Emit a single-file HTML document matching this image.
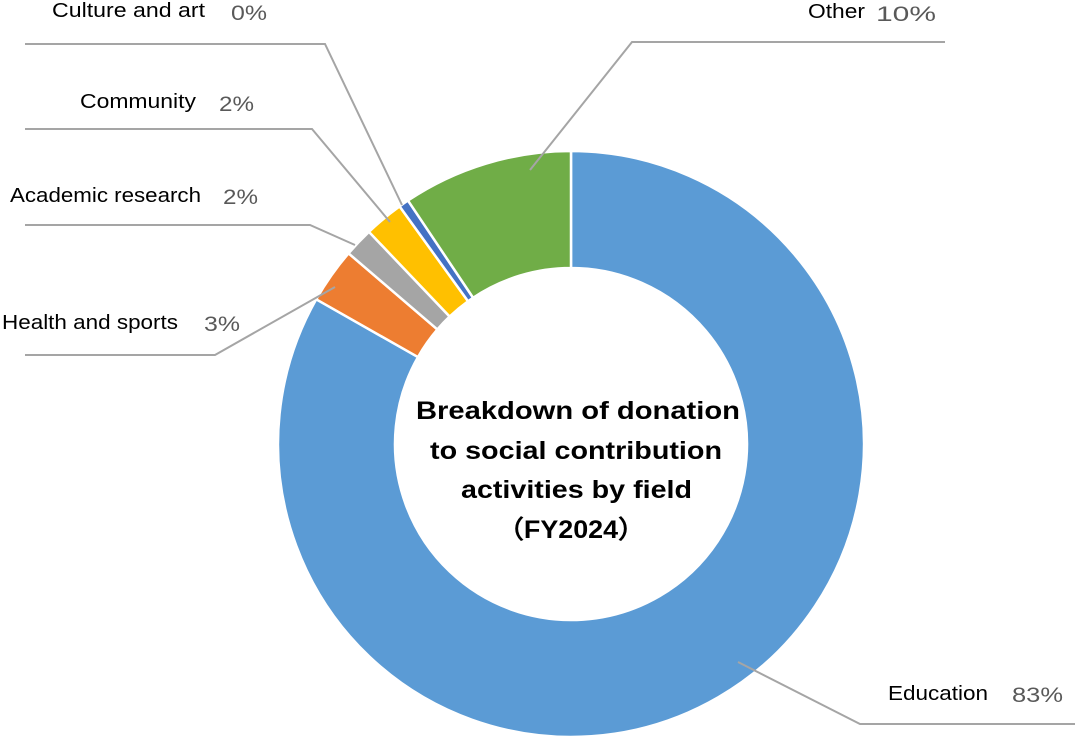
<!DOCTYPE html>
<html><head><meta charset="utf-8"><style>
html,body{margin:0;padding:0;background:#fff;}
svg{display:block;}
text{font-family:"Liberation Sans",sans-serif;}
</style></head><body>
<svg id="s" width="1079" height="740" viewBox="0 0 1079 740" xmlns="http://www.w3.org/2000/svg">
<g id="slices"></g>
<g stroke="#a5a5a5" stroke-width="2" fill="none">
<polyline points="530,170 632,42 945,42"/>
<polyline points="25,44 325,44 402,205"/>
<polyline points="25,129 312,129 390,222"/>
<polyline points="25,225 310,225 355,245"/>
<polyline points="25,355 215,355 335,287"/>
<polyline points="738,662 860,724 1075,724"/>
</g>
<g font-size="20" fill="#000" lengthAdjust="spacingAndGlyphs">
<text x="808" y="18" textLength="57" lengthAdjust="spacingAndGlyphs">Other</text><text x="876" y="21" fill="#595959" font-size="21" textLength="60" lengthAdjust="spacingAndGlyphs">10%</text>
<text x="52" y="17" textLength="153" lengthAdjust="spacingAndGlyphs">Culture and art</text><text x="231" y="20" fill="#595959" font-size="21" textLength="36" lengthAdjust="spacingAndGlyphs">0%</text>
<text x="80" y="108" textLength="116" lengthAdjust="spacingAndGlyphs">Community</text><text x="219" y="111" fill="#595959" font-size="21" textLength="35" lengthAdjust="spacingAndGlyphs">2%</text>
<text x="10" y="202" textLength="191" lengthAdjust="spacingAndGlyphs">Academic research</text><text x="223" y="204" fill="#595959" font-size="21" textLength="35" lengthAdjust="spacingAndGlyphs">2%</text>
<text x="2" y="329" textLength="176" lengthAdjust="spacingAndGlyphs">Health and sports</text><text x="204" y="331" fill="#595959" font-size="21" textLength="36" lengthAdjust="spacingAndGlyphs">3%</text>
<text x="888" y="700" textLength="100" lengthAdjust="spacingAndGlyphs">Education</text><text x="1012" y="702" fill="#595959" font-size="21" textLength="51" lengthAdjust="spacingAndGlyphs">83%</text>
</g>
<g font-size="25" font-weight="bold" fill="#000">
<text x="416" y="419" textLength="324" lengthAdjust="spacingAndGlyphs">Breakdown of donation</text>
<text x="430" y="459" textLength="292" lengthAdjust="spacingAndGlyphs">to social contribution</text>
<text x="461" y="498" textLength="231" lengthAdjust="spacingAndGlyphs">activities by field</text>
<text x="497" y="538" textLength="148" lengthAdjust="spacingAndGlyphs">（FY2024）</text>
</g>
</svg>
<script>
var cx=571,cy=444,R=293,r=176;
var seg=[[0,299.6,"#5b9bd5"],[299.6,310.6,"#ed7d31"],[310.6,316.4,"#a5a5a5"],[316.4,324.2,"#ffc000"],[324.2,326.2,"#4472c4"],[326.2,360,"#70ad47"]];
function p(a,rad){a=a*Math.PI/180;return [cx+rad*Math.sin(a),cy-rad*Math.cos(a)];}
var g=document.getElementById("slices"),h="";
seg.forEach(function(s){var a=s[0],b=s[1],L=(b-a)>180?1:0;
var p1=p(a,R),p2=p(b,R),p3=p(b,r),p4=p(a,r);
h+='<path d="M'+p1+' A'+R+','+R+' 0 '+L+' 1 '+p2+' L'+p3+' A'+r+','+r+' 0 '+L+' 0 '+p4+' Z" fill="'+s[2]+'" stroke="#fff" stroke-width="2.5"/>';});
g.innerHTML=h;
</script>
</body></html>
